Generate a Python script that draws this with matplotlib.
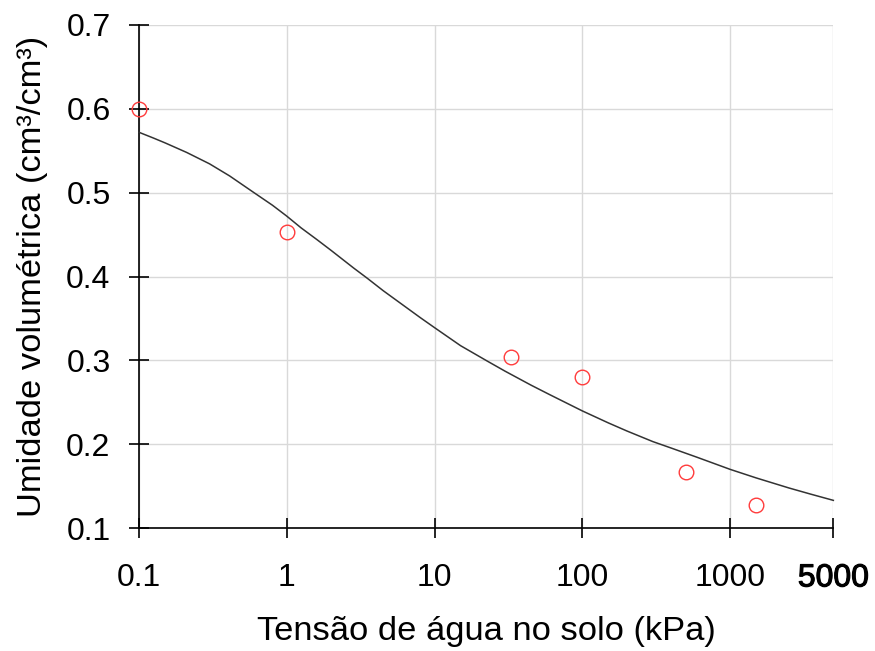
import matplotlib
matplotlib.use("Agg")
import matplotlib.pyplot as plt
import matplotlib.patheffects as pe

plt.rcParams['font.family'] = ['Liberation Sans', 'DejaVu Sans']

# Observed data
tension_obs = [0.1, 1, 33, 100, 500, 1500]
theta_obs = [0.600, 0.453, 0.304, 0.280, 0.167, 0.127]

# Fitted curve
tension_fit = [0.1, 0.125, 0.15, 0.21, 0.3, 0.41, 0.6, 0.8, 1, 1.25, 1.6, 2, 2.84, 3.5, 4.5, 6, 8, 10,
               15, 22.8, 30, 45, 60, 100, 150, 200, 300, 398, 600, 1000, 1500, 2500, 3500, 5000]
theta_fit = [0.572, 0.5652, 0.5594, 0.548, 0.5344, 0.520, 0.500, 0.485, 0.472, 0.458, 0.444, 0.431, 0.410,
             0.398, 0.383, 0.367, 0.351, 0.339, 0.3175, 0.299, 0.2871, 0.2704, 0.2592, 0.2397, 0.2254,
             0.2158, 0.2031, 0.1955, 0.1843, 0.170, 0.1598, 0.1478, 0.1405, 0.133]

xticks = [0.1, 1, 10, 100, 1000, 5000]
xtick_labels = ['0.1', '1', '10', '100', '1000', '5000']
yticks = [0.1, 0.2, 0.3, 0.4, 0.5, 0.6, 0.7]
ytick_labels = ['0.1', '0.2', '0.3', '0.4', '0.5', '0.6', '0.7']

fig = plt.figure(figsize=(8.75, 6.51), dpi=100)
ax = fig.add_axes([0.1589, 0.1889, 0.9524 - 0.1589, 0.9616 - 0.1889])

ax.set_xscale('log')
ax.set_xlim(0.1, 5000)
ax.set_ylim(0.1, 0.7)

ax.grid(True, color='#d9d9d9', linewidth=1.0, zorder=0)
ax.set_axisbelow(True)

ax.plot(tension_fit, theta_fit, color='#333333', linewidth=1.1, zorder=3, clip_on=False)
ax.plot(tension_obs, theta_obs, linestyle='none', marker='o', markersize=10.5,
        markerfacecolor='none', markeredgecolor='#ff3b3b', markeredgewidth=1.0,
        zorder=4, clip_on=False)

ax.set_xticks(xticks)
ax.set_xticklabels(xtick_labels)
ax.xaxis.set_minor_locator(matplotlib.ticker.NullLocator())
ax.set_yticks(yticks)
ax.set_yticklabels(ytick_labels)

for s in ['top', 'right']:
    ax.spines[s].set_visible(False)
for s in ['left', 'bottom']:
    ax.spines[s].set_linewidth(1.2)
    ax.spines[s].set_color('black')

ax.tick_params(axis='both', direction='inout', length=15, width=1.2, labelsize=23, colors='black')
ax.tick_params(axis='y', pad=13)
ax.tick_params(axis='x', pad=18)

ax.xaxis.get_ticklabels()[-1].set_path_effects([pe.withStroke(linewidth=0.8, foreground='black')])

ax.set_xlabel('Tensão de água no solo (kPa)', fontsize=24.8, labelpad=16)
ax.set_ylabel('Umidade volumétrica (cm³/cm³)', fontsize=24.8, labelpad=13)

fig.savefig('out.png', dpi=100)
